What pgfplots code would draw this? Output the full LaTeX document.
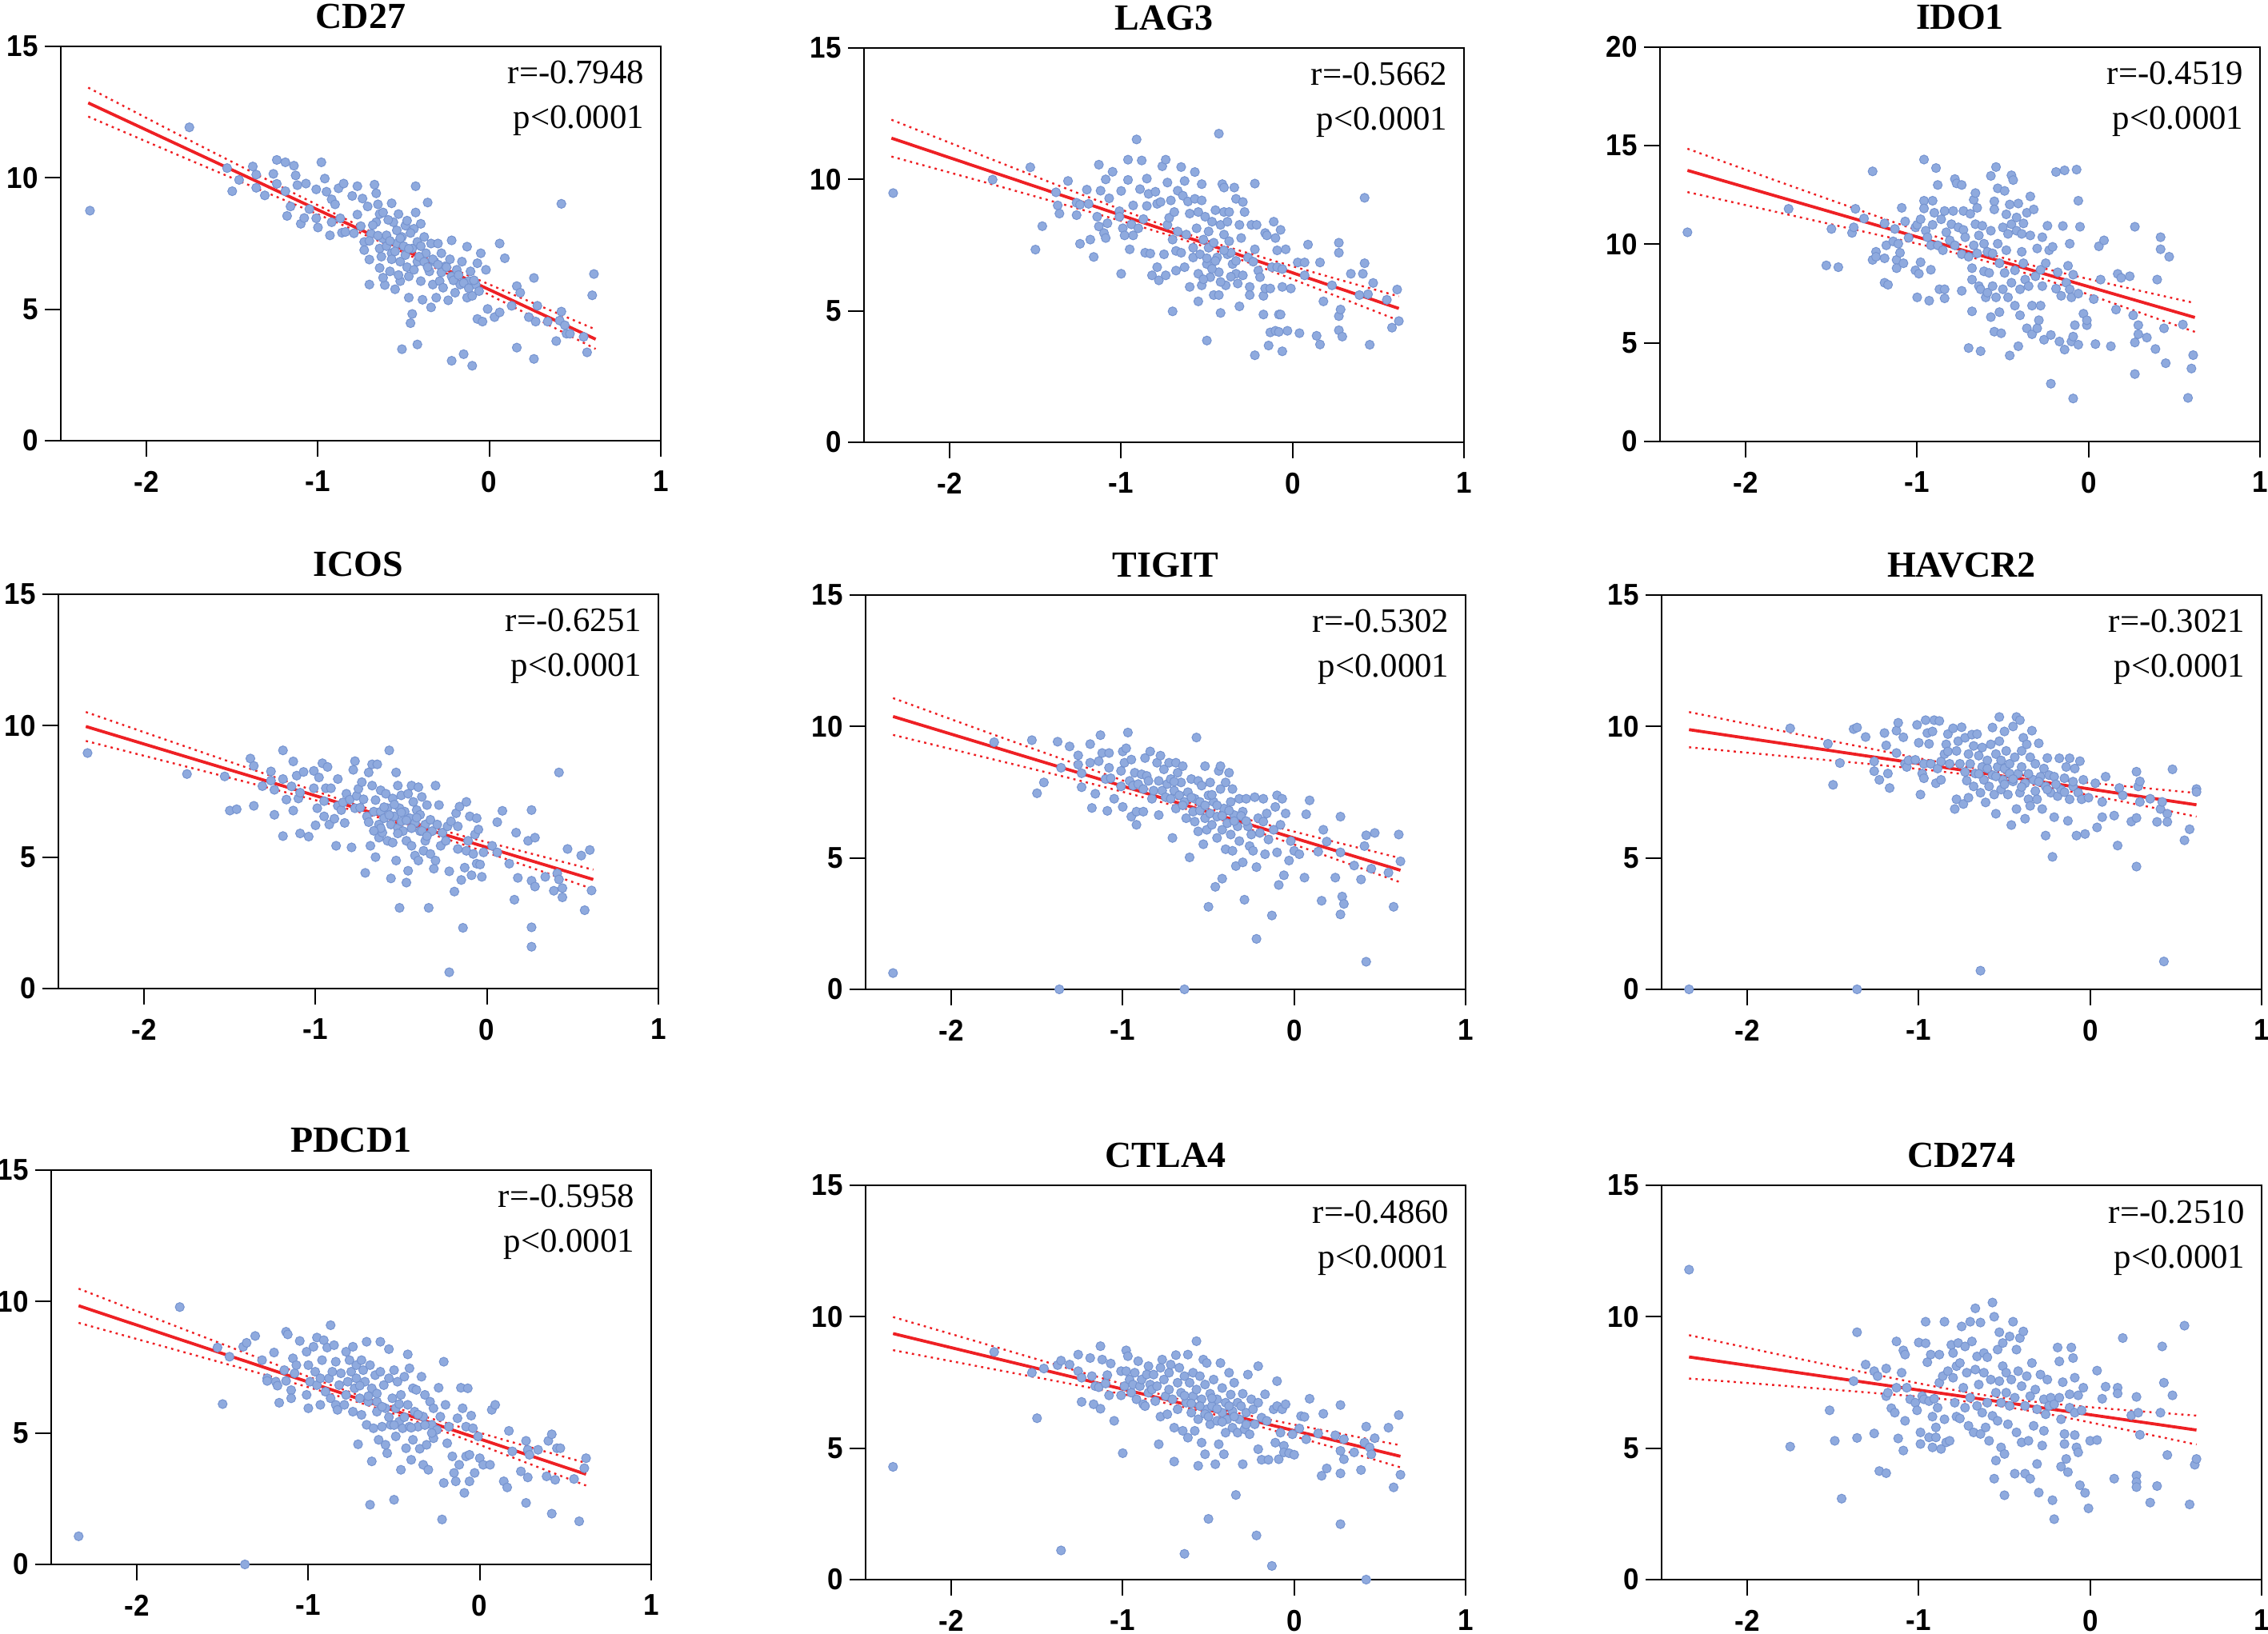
\documentclass[border=0pt]{standalone}
\usepackage{fontspec}
\setmainfont{Liberation Serif}
\newfontfamily\tickfont[FakeStretch=0.93]{Liberation Sans}
\usepackage{pgfplots}
\pgfplotsset{compat=1.18}
\definecolor{ptfill}{RGB}{143,170,222}
\definecolor{ptdraw}{RGB}{118,148,208}
\definecolor{ptred}{RGB}{238,32,36}
\pgfplotsset{
 panel/.style={width=187.5pt,height=123.25pt,scale only axis,
  xmin=-2.5,xmax=1,ymin=0,ymax=15,
  xtick={-2,-1,0,1},xticklabels={-2,-1,0,1},
  ytick={0,5,10,15},yticklabels={0,5,10,15},
  tick pos=left,tick align=outside,major tick length=5pt,
  tick style={black,line width=0.5pt},
  axis line style={line width=0.35pt},
  tick label style={font=\tickfont\bfseries\fontsize{9.4}{9.4}\selectfont},
  xticklabel style={yshift=-1pt},
  yticklabel style={xshift=1.4pt},
  title style={font=\bfseries\fontsize{11.5}{12}\selectfont,at={(0.5,1)},anchor=base,yshift=-0.5pt},
  clip=false,anchor=south west},
 pts/.style={only marks,mark=*,mark size=1.4pt,mark options={fill=ptfill,draw=ptdraw,line width=0.25pt}},
 fit/.style={ptred,line width=0.95pt,no marks},
 ci/.style={ptred,line width=0.6pt,no marks,smooth,dash pattern=on 0.7pt off 1.3pt},
}
\newcommand{\stats}[1]{%
 \node[anchor=base east,font=\fontsize{10.7}{12}\selectfont,inner sep=0pt,xshift=-5pt,yshift=-11.75pt] at (rel axis cs:1,1) {r=#1};
 \node[anchor=base east,font=\fontsize{10.7}{12}\selectfont,inner sep=0pt,xshift=-5pt,yshift=-25.75pt] at (rel axis cs:1,1) {p<0.0001};
 \draw[line width=0.55pt] (rel axis cs:0,1) -- (rel axis cs:0,0) -- (rel axis cs:1,0);}
\begin{document}
\begin{tikzpicture}
\useasboundingbox (0,0) rectangle (708.75pt,510.75pt);
% ---------- CD27
\begin{axis}[panel,at={(19pt,373pt)},title={CD27}]
\addplot[pts] coordinates {(-2.33,8.75)(-1.75,11.92)(-1.53,10.37)(-1.50,9.49)(-1.46,9.92)(-1.38,10.43)(-1.36,10.12)(-1.36,9.62)(-1.31,9.33)(-1.26,10.15)(-1.24,10.68)(-1.24,9.77)(-1.19,10.59)(-1.19,9.49)(-1.14,10.46)(-1.13,10.09)(-1.18,8.55)(-1.16,8.91)(-1.12,9.72)(-1.07,9.78)(-1.10,8.25)(-1.08,8.47)(-1.05,8.81)(-1.01,9.56)(-1.00,8.11)(-1.01,8.46)(-0.98,10.59)(-0.96,9.97)(-0.95,9.47)(-0.93,7.81)(-0.92,8.31)(-0.92,9.18)(-0.90,8.99)(-0.88,9.60)(-0.85,9.78)(-0.86,7.91)(-0.84,7.94)(-0.87,8.46)(-0.80,9.31)(-0.79,7.89)(-0.77,9.68)(-0.77,8.60)(-0.75,8.16)(-0.74,9.21)(-0.73,7.56)(-0.73,7.25)(-0.71,8.91)(-0.70,5.94)(-0.70,6.89)(-0.69,7.87)(-0.67,9.74)(-0.66,9.41)(-0.65,8.99)(-0.66,8.31)(-0.64,8.62)(-0.64,7.31)(-0.63,7.00)(-0.64,6.57)(-0.62,8.68)(-0.62,7.69)(-0.61,5.92)(-0.60,7.81)(-0.58,6.44)(-0.57,9.03)(-0.57,7.13)(-0.56,8.31)(-0.55,5.76)(-0.54,7.50)(-0.54,8.00)(-0.53,8.62)(-0.52,6.81)(-0.52,6.07)(-0.51,3.48)(-0.51,7.75)(-0.49,8.18)(-0.49,7.06)(-0.48,8.37)(-0.47,5.44)(-0.47,6.25)(-0.46,4.47)(-0.45,7.31)(-0.45,4.82)(-0.44,8.06)(-0.43,8.68)(-0.43,9.68)(-0.42,7.56)(-0.42,6.81)(-0.42,3.66)(-0.40,8.25)(-0.40,6.07)(-0.39,5.36)(-0.38,7.75)(-0.37,7.13)(-0.36,9.06)(-0.35,6.44)(-0.34,7.50)(-0.34,5.07)(-0.33,5.94)(-0.32,6.81)(-0.31,5.44)(-0.30,7.50)(-0.29,6.07)(-0.28,7.13)(-0.27,5.82)(-0.26,6.63)(-0.24,5.34)(-0.22,7.62)(-0.22,3.04)(-0.22,6.25)(-0.20,5.63)(-0.19,6.50)(-0.17,5.94)(-0.16,6.81)(-0.15,3.29)(-0.13,5.44)(-0.13,7.38)(-0.12,6.07)(-0.11,6.44)(-0.10,2.85)(-0.10,5.51)(-0.08,5.94)(-0.07,6.75)(-0.07,4.63)(-0.06,5.69)(-0.05,7.13)(-0.04,4.53)(-0.02,6.50)(-0.01,5.01)(0.03,4.70)(0.06,4.88)(0.06,7.50)(0.09,6.94)(0.13,5.13)(0.16,5.88)(0.16,3.54)(0.18,5.63)(0.23,4.70)(0.26,6.19)(0.26,3.11)(0.28,5.13)(0.27,4.53)(0.34,4.53)(0.39,3.79)(0.41,4.57)(0.42,9.01)(0.42,4.91)(0.44,4.39)(0.45,4.07)(0.47,4.07)(0.55,3.95)(0.57,3.36)(0.60,5.53)(0.61,6.34)(-0.60,7.4)(-0.58,7.6)(-0.55,7.2)(-0.50,7.4)(-0.48,6.6)(-0.46,7.9)(-0.44,6.5)(-0.41,7.0)(-0.38,6.8)(-0.36,6.6)(-0.33,6.9)(-0.30,6.7)(-0.28,6.4)(-0.25,6.6)(-0.23,6.9)(-0.21,6.1)(-0.18,6.3)(-0.15,6.0)(-0.12,5.8)(-0.09,6.1)(-0.70,7.6)(-0.68,8.2)(-0.65,7.8)(-0.59,8.4)(-0.52,7.7)(-0.47,7.3)(-0.57,6.9)(-0.62,6.2)(-0.53,6.3)(-0.40,7.4)};
\addplot[ci] coordinates {(-2.34,13.43)(-1.8,11.60)(-1.3,9.94)(-0.9,8.63)(-0.55,7.51)(-0.2,6.50)(0.2,5.39)(0.62,4.23)};
\addplot[ci] coordinates {(-2.34,12.33)(-1.8,10.82)(-1.3,9.44)(-0.9,8.33)(-0.55,7.31)(-0.2,6.20)(0.2,4.89)(0.62,3.49)};
\addplot[fit] coordinates {(-2.34,12.85)(0.62,3.86)};
\stats{-0.7948}
\end{axis}
% ---------- LAG3
\begin{axis}[panel,at={(270pt,372.5pt)},title={LAG3}]
\addplot[pts] coordinates {(-2.33,9.48)(-1.75,9.99)(-1.53,10.46)(-1.50,7.33)(-1.46,8.22)(-1.38,9.51)(-1.37,9.01)(-1.36,8.70)(-1.31,9.94)(-1.26,9.11)(-1.26,8.64)(-1.24,9.04)(-1.24,7.55)(-1.20,9.61)(-1.19,9.07)(-1.18,7.71)(-1.16,7.05)(-1.13,10.56)(-1.14,8.58)(-1.12,9.57)(-1.13,8.21)(-1.10,7.96)(-1.09,7.77)(-1.09,10.00)(-1.08,8.33)(-1.07,9.28)(-1.05,10.29)(-1.01,8.79)(-1.01,8.58)(-1.00,9.56)(-1.00,6.41)(-0.99,8.14)(-0.98,7.87)(-0.96,9.98)(-0.96,10.75)(-0.95,7.34)(-0.94,8.29)(-0.93,9.01)(-0.93,7.87)(-0.91,11.52)(-0.90,8.14)(-0.89,9.63)(-0.88,10.72)(-0.87,8.49)(-0.86,7.21)(-0.85,8.99)(-0.85,10.03)(-0.84,9.45)(-0.83,7.18)(-0.82,6.35)(-0.80,9.53)(-0.79,6.66)(-0.79,9.07)(-0.78,6.16)(-0.77,9.14)(-0.76,10.50)(-0.75,7.15)(-0.74,6.35)(-0.74,10.75)(-0.73,9.88)(-0.73,8.27)(-0.72,8.54)(-0.71,9.20)(-0.70,4.98)(-0.70,7.71)(-0.69,8.76)(-0.68,6.53)(-0.68,7.28)(-0.67,9.57)(-0.67,8.02)(-0.65,10.47)(-0.65,7.21)(-0.64,9.38)(-0.63,6.66)(-0.63,9.94)(-0.62,7.90)(-0.61,9.16)(-0.60,5.91)(-0.60,8.70)(-0.58,7.03)(-0.58,7.40)(-0.57,9.26)(-0.57,10.28)(-0.56,8.14)(-0.55,6.41)(-0.55,5.36)(-0.55,8.76)(-0.54,7.15)(-0.53,5.97)(-0.53,9.20)(-0.53,9.82)(-0.52,7.71)(-0.51,8.58)(-0.50,3.87)(-0.50,6.78)(-0.49,8.02)(-0.49,7.40)(-0.48,6.28)(-0.47,8.39)(-0.46,5.60)(-0.46,7.59)(-0.45,8.83)(-0.44,7.03)(-0.43,6.47)(-0.43,11.74)(-0.43,5.60)(-0.42,8.27)(-0.42,4.92)(-0.41,9.82)(-0.40,8.76)(-0.40,7.90)(-0.40,9.69)(-0.39,5.97)(-0.38,7.15)(-0.38,8.39)(-0.37,8.76)(-0.37,7.65)(-0.36,7.21)(-0.35,6.78)(-0.34,9.69)(-0.33,6.41)(-0.33,9.26)(-0.32,6.04)(-0.31,5.17)(-0.31,8.27)(-0.30,7.77)(-0.29,9.14)(-0.29,6.35)(-0.28,8.76)(-0.26,7.03)(-0.25,5.91)(-0.25,5.60)(-0.24,8.27)(-0.23,6.87)(-0.22,3.31)(-0.22,9.84)(-0.22,7.34)(-0.21,8.27)(-0.20,6.53)(-0.19,6.28)(-0.17,4.86)(-0.17,5.57)(-0.16,7.96)(-0.16,5.85)(-0.15,7.87)(-0.14,3.68)(-0.13,4.18)(-0.13,5.85)(-0.12,6.66)(-0.11,8.39)(-0.10,4.24)(-0.10,7.77)(-0.09,7.30)(-0.09,6.66)(-0.08,4.86)(-0.08,4.20)(-0.07,4.86)(-0.07,8.08)(-0.06,5.91)(-0.06,3.46)(-0.06,6.59)(-0.04,7.34)(-0.03,4.24)(-0.01,5.85)(0.03,6.84)(0.04,4.15)(0.07,6.35)(0.07,6.84)(0.09,7.52)(0.14,4.05)(0.16,6.84)(0.16,3.72)(0.18,5.36)(0.23,5.97)(0.27,7.59)(0.27,7.21)(0.27,4.80)(0.28,5.05)(0.27,4.26)(0.29,4.02)(0.34,6.41)(0.39,5.60)(0.41,6.41)(0.42,9.30)(0.42,6.81)(0.44,5.63)(0.45,3.71)(0.47,6.06)(0.55,5.42)(0.58,4.36)(0.61,5.81)(0.62,4.61)(-0.50,7.0)(-0.45,6.9)(-0.40,7.3)(-0.36,6.3)(-0.33,6.9)(-0.47,6.6)(-0.52,6.2)(-0.42,6.1)};
\addplot[ci] coordinates {(-2.34,12.27)(-1.8,10.88)(-1.3,9.60)(-0.9,8.61)(-0.55,7.78)(-0.2,7.08)(0.2,6.32)(0.62,5.55)};
\addplot[ci] coordinates {(-2.34,10.87)(-1.8,9.90)(-1.3,8.98)(-0.9,8.23)(-0.55,7.52)(-0.2,6.70)(0.2,5.70)(0.62,4.63)};
\addplot[fit] coordinates {(-2.34,11.57)(0.62,5.09)};
\stats{-0.5662}
\end{axis}
% ---------- IDO1
\begin{axis}[panel,at={(518.75pt,372.75pt)},title={IDO1},ymax=20,ytick={0,5,10,15,20},yticklabels={0,5,10,15,20}]
\addplot[pts] coordinates {(-2.34,10.61)(-1.75,11.80)(-1.53,8.93)(-1.50,10.78)(-1.46,8.84)(-1.38,10.58)(-1.37,10.86)(-1.36,11.80)(-1.31,11.31)(-1.26,13.70)(-1.26,9.21)(-1.24,9.62)(-1.24,9.37)(-1.19,11.06)(-1.19,9.29)(-1.19,8.05)(-1.17,7.95)(-1.18,9.95)(-1.14,10.15)(-1.13,10.78)(-1.12,9.21)(-1.12,8.79)(-1.11,10.03)(-1.10,9.57)(-1.09,11.85)(-1.08,9.04)(-1.07,11.16)(-1.05,10.33)(-1.01,10.86)(-1.01,8.68)(-1.00,7.31)(-1.00,10.99)(-0.99,8.51)(-0.98,11.27)(-0.98,9.09)(-0.96,14.30)(-0.96,12.21)(-0.96,11.82)(-0.95,10.69)(-0.94,10.36)(-0.93,7.14)(-0.92,8.71)(-0.92,9.95)(-0.91,10.99)(-0.91,12.21)(-0.90,11.60)(-0.89,13.87)(-0.88,9.95)(-0.88,13.01)(-0.87,7.72)(-0.86,11.27)(-0.85,9.70)(-0.84,11.69)(-0.84,7.26)(-0.84,7.72)(-0.83,10.61)(-0.81,10.20)(-0.80,11.02)(-0.79,11.69)(-0.78,13.31)(-0.78,9.95)(-0.77,13.09)(-0.76,10.86)(-0.74,13.01)(-0.74,7.64)(-0.74,9.50)(-0.73,11.69)(-0.73,10.73)(-0.72,10.36)(-0.70,4.74)(-0.70,9.37)(-0.69,11.55)(-0.68,8.21)(-0.68,8.79)(-0.68,6.60)(-0.67,9.95)(-0.67,12.26)(-0.66,11.02)(-0.66,12.60)(-0.65,9.54)(-0.65,11.85)(-0.64,7.88)(-0.64,10.45)(-0.63,7.72)(-0.63,4.58)(-0.62,10.94)(-0.61,8.63)(-0.61,10.03)(-0.60,7.31)(-0.59,7.55)(-0.59,9.62)(-0.58,8.55)(-0.57,6.31)(-0.57,13.47)(-0.57,10.69)(-0.56,7.88)(-0.56,9.54)(-0.55,5.57)(-0.55,12.18)(-0.55,11.77)(-0.54,13.92)(-0.54,7.31)(-0.53,12.84)(-0.53,10.03)(-0.52,6.56)(-0.52,9.04)(-0.51,5.49)(-0.50,10.86)(-0.50,7.72)(-0.49,12.71)(-0.49,8.55)(-0.48,11.52)(-0.48,9.70)(-0.47,7.31)(-0.47,10.53)(-0.46,4.36)(-0.46,12.02)(-0.45,8.05)(-0.45,13.50)(-0.45,11.02)(-0.44,13.26)(-0.43,6.89)(-0.43,8.68)(-0.42,11.36)(-0.42,10.69)(-0.41,12.07)(-0.41,4.83)(-0.40,7.72)(-0.40,6.40)(-0.39,9.62)(-0.39,10.53)(-0.38,11.06)(-0.38,9.04)(-0.37,8.21)(-0.36,11.60)(-0.36,5.74)(-0.35,7.88)(-0.34,12.43)(-0.34,10.45)(-0.33,5.44)(-0.33,6.89)(-0.32,11.77)(-0.31,8.38)(-0.30,9.79)(-0.30,5.74)(-0.29,6.15)(-0.28,8.71)(-0.28,6.89)(-0.27,10.36)(-0.27,7.88)(-0.26,5.16)(-0.25,9.04)(-0.24,10.94)(-0.23,9.70)(-0.22,2.93)(-0.22,5.40)(-0.21,9.87)(-0.19,7.75)(-0.19,13.67)(-0.18,8.58)(-0.17,5.07)(-0.16,7.39)(-0.15,10.93)(-0.14,4.66)(-0.14,13.75)(-0.13,8.05)(-0.12,8.91)(-0.11,7.72)(-0.11,10.03)(-0.10,5.07)(-0.10,7.31)(-0.09,8.46)(-0.09,2.18)(-0.09,5.32)(-0.08,5.90)(-0.07,13.79)(-0.06,12.21)(-0.06,4.91)(-0.06,7.50)(-0.05,10.89)(-0.03,6.48)(-0.01,5.90)(-0.01,6.15)(0.03,7.22)(0.04,4.94)(0.06,9.90)(0.07,8.21)(0.09,10.20)(0.13,4.83)(0.16,6.69)(0.17,8.50)(0.19,8.30)(0.24,8.38)(0.26,6.40)(0.27,5.02)(0.27,10.89)(0.27,3.42)(0.29,5.90)(0.29,5.44)(0.34,5.27)(0.39,4.69)(0.40,8.21)(0.42,10.36)(0.42,9.75)(0.44,5.74)(0.45,3.97)(0.47,9.37)(0.55,5.93)(0.58,2.21)(0.60,3.70)(0.61,4.38)};
\addplot[ci] coordinates {(-2.34,14.85)(-1.8,13.16)(-1.3,11.62)(-0.9,10.42)(-0.55,9.44)(-0.2,8.65)(0.2,7.84)(0.62,7.02)};
\addplot[ci] coordinates {(-2.34,12.65)(-1.8,11.60)(-1.3,10.62)(-0.9,9.83)(-0.55,9.02)(-0.2,8.06)(0.2,6.84)(0.62,5.56)};
\addplot[fit] coordinates {(-2.34,13.75)(0.62,6.29)};
\stats{-0.4519}
\end{axis}
% ---------- ICOS
\begin{axis}[panel,at={(18.25pt,201.75pt)},title={ICOS}]
\addplot[pts] coordinates {(-2.33,8.96)(-1.75,8.16)(-1.53,8.07)(-1.50,6.77)(-1.46,6.82)(-1.38,8.75)(-1.36,8.47)(-1.36,6.95)(-1.31,7.70)(-1.26,8.26)(-1.26,7.91)(-1.24,7.56)(-1.24,6.61)(-1.19,9.06)(-1.19,7.97)(-1.19,5.80)(-1.17,7.19)(-1.14,7.69)(-1.13,6.77)(-1.13,8.64)(-1.11,8.10)(-1.10,7.23)(-1.09,5.90)(-1.09,7.45)(-1.07,8.24)(-1.04,5.78)(-1.01,8.28)(-1.01,7.62)(-1.00,6.21)(-0.99,6.86)(-0.98,8.03)(-0.96,8.57)(-0.95,7.13)(-0.95,6.55)(-0.94,7.62)(-0.93,8.43)(-0.92,6.24)(-0.91,7.62)(-0.89,6.46)(-0.88,5.43)(-0.87,6.95)(-0.87,7.97)(-0.85,6.79)(-0.84,7.08)(-0.83,6.30)(-0.82,7.41)(-0.80,7.19)(-0.79,5.37)(-0.78,8.32)(-0.77,6.86)(-0.77,8.65)(-0.76,7.33)(-0.75,7.60)(-0.74,6.88)(-0.73,7.85)(-0.72,7.20)(-0.71,4.40)(-0.70,6.55)(-0.69,8.22)(-0.69,6.33)(-0.68,5.43)(-0.67,8.53)(-0.67,7.72)(-0.66,6.73)(-0.65,7.17)(-0.65,5.00)(-0.64,8.53)(-0.63,6.24)(-0.63,5.74)(-0.62,7.54)(-0.62,6.73)(-0.61,5.93)(-0.60,6.48)(-0.59,7.41)(-0.58,5.62)(-0.58,6.86)(-0.57,9.06)(-0.56,6.24)(-0.56,4.19)(-0.55,7.23)(-0.55,5.55)(-0.54,6.55)(-0.53,8.22)(-0.53,4.87)(-0.52,7.72)(-0.52,6.11)(-0.51,6.86)(-0.51,3.07)(-0.50,7.35)(-0.50,6.36)(-0.49,5.99)(-0.48,6.73)(-0.47,5.62)(-0.47,4.03)(-0.46,4.48)(-0.46,7.41)(-0.45,6.48)(-0.44,7.72)(-0.44,5.43)(-0.43,7.10)(-0.42,5.06)(-0.42,6.30)(-0.41,6.79)(-0.40,7.66)(-0.40,4.87)(-0.39,5.99)(-0.39,6.61)(-0.38,7.29)(-0.37,5.24)(-0.36,6.24)(-0.36,5.62)(-0.35,6.98)(-0.34,3.07)(-0.33,6.42)(-0.33,5.12)(-0.32,5.99)(-0.31,4.56)(-0.30,4.87)(-0.30,7.72)(-0.29,6.24)(-0.28,6.98)(-0.27,5.43)(-0.26,5.93)(-0.24,5.62)(-0.23,6.17)(-0.22,4.46)(-0.22,0.62)(-0.21,6.36)(-0.19,3.69)(-0.18,6.67)(-0.17,5.31)(-0.17,6.17)(-0.16,6.92)(-0.15,4.13)(-0.14,2.31)(-0.13,4.60)(-0.12,7.10)(-0.12,5.24)(-0.11,5.62)(-0.10,6.55)(-0.09,4.31)(-0.08,5.12)(-0.07,5.86)(-0.06,6.48)(-0.06,4.75)(-0.05,6.05)(-0.04,4.72)(-0.03,4.25)(-0.02,5.18)(0.03,5.43)(0.06,5.18)(0.06,6.33)(0.09,6.76)(0.13,4.75)(0.16,3.38)(0.17,5.93)(0.18,4.21)(0.24,5.62)(0.26,4.10)(0.26,6.79)(0.26,2.33)(0.26,1.59)(0.28,3.88)(0.28,5.74)(0.34,4.25)(0.39,3.72)(0.41,4.38)(0.42,8.22)(0.42,4.15)(0.44,3.82)(0.44,3.47)(0.47,5.31)(0.55,5.06)(0.57,2.98)(0.60,5.27)(0.61,3.73)(-0.60,6.9)(-0.57,6.6)(-0.54,7.0)(-0.50,6.7)(-0.47,6.4)(-0.44,6.1)(-0.41,6.5)(-0.38,6.0)(-0.35,5.8)(-0.62,6.1)(-0.66,6.0)(-0.52,5.9)};
\addplot[ci] coordinates {(-2.34,10.52)(-1.8,9.30)(-1.3,8.18)(-0.9,7.29)(-0.55,6.55)(-0.2,5.91)(0.2,5.23)(0.62,4.52)};
\addplot[ci] coordinates {(-2.34,9.42)(-1.8,8.52)(-1.3,7.68)(-0.9,6.99)(-0.55,6.35)(-0.2,5.61)(0.2,4.73)(0.62,3.78)};
\addplot[fit] coordinates {(-2.34,9.97)(0.62,4.15)};
\stats{-0.6251}
\end{axis}
% ---------- TIGIT
\begin{axis}[panel,at={(270.5pt,201.5pt)},title={TIGIT}]
\addplot[pts] coordinates {(-2.34,0.62)(-1.37,0)(-0.64,0)(-1.75,9.40)(-1.53,9.48)(-1.50,7.46)(-1.46,7.87)(-1.38,9.42)(-1.36,8.43)(-1.31,9.24)(-1.26,8.90)(-1.26,8.55)(-1.24,8.22)(-1.24,7.69)(-1.19,9.33)(-1.19,8.62)(-1.18,6.90)(-1.16,7.44)(-1.14,8.68)(-1.13,9.67)(-1.12,8.99)(-1.10,8.00)(-1.09,6.79)(-1.08,8.99)(-1.08,8.43)(-1.07,8.03)(-1.05,7.25)(-1.01,7.72)(-1.01,8.31)(-1.00,9.05)(-1.00,6.94)(-0.99,8.62)(-0.98,9.17)(-0.97,9.77)(-0.96,7.93)(-0.95,6.57)(-0.95,8.74)(-0.94,7.75)(-0.93,8.24)(-0.92,6.26)(-0.92,6.76)(-0.91,7.81)(-0.89,8.18)(-0.88,6.76)(-0.88,7.62)(-0.87,8.80)(-0.86,8.12)(-0.85,7.93)(-0.84,9.05)(-0.83,7.25)(-0.82,7.56)(-0.80,8.62)(-0.79,6.63)(-0.79,7.93)(-0.78,8.89)(-0.77,7.56)(-0.76,8.37)(-0.75,7.31)(-0.74,7.81)(-0.73,8.62)(-0.72,7.25)(-0.72,8.00)(-0.71,5.76)(-0.70,7.56)(-0.69,8.62)(-0.69,6.88)(-0.68,8.24)(-0.67,7.38)(-0.66,7.87)(-0.65,8.49)(-0.64,7.13)(-0.63,6.51)(-0.62,7.50)(-0.61,5.02)(-0.60,8.00)(-0.59,6.76)(-0.58,7.25)(-0.58,6.38)(-0.57,9.58)(-0.56,7.93)(-0.56,6.01)(-0.55,7.13)(-0.54,7.75)(-0.53,5.52)(-0.52,6.51)(-0.52,8.49)(-0.51,6.07)(-0.50,3.14)(-0.50,7.38)(-0.49,6.69)(-0.49,7.87)(-0.48,6.26)(-0.47,7.13)(-0.46,3.90)(-0.45,5.76)(-0.45,6.57)(-0.44,8.31)(-0.43,7.62)(-0.43,8.49)(-0.42,6.07)(-0.42,4.21)(-0.41,6.88)(-0.40,7.87)(-0.40,5.33)(-0.39,6.32)(-0.38,8.24)(-0.37,7.13)(-0.37,5.89)(-0.36,5.27)(-0.36,7.62)(-0.35,6.63)(-0.34,4.69)(-0.33,6.20)(-0.32,7.25)(-0.32,5.64)(-0.30,4.83)(-0.30,6.76)(-0.29,3.41)(-0.28,7.25)(-0.27,6.20)(-0.26,5.45)(-0.25,5.89)(-0.24,5.27)(-0.23,7.31)(-0.22,4.65)(-0.22,1.92)(-0.21,6.51)(-0.20,5.95)(-0.18,7.25)(-0.18,6.38)(-0.17,5.14)(-0.16,6.69)(-0.15,5.70)(-0.13,2.81)(-0.12,6.07)(-0.11,6.94)(-0.10,7.38)(-0.10,5.21)(-0.09,3.97)(-0.08,6.26)(-0.07,7.25)(-0.06,4.34)(-0.05,6.69)(-0.03,4.90)(-0.02,5.64)(0.00,5.27)(0.03,5.14)(0.06,4.25)(0.07,6.66)(0.09,7.19)(0.14,5.24)(0.16,3.37)(0.17,6.07)(0.19,5.62)(0.24,4.25)(0.27,6.57)(0.27,5.21)(0.28,3.53)(0.27,2.85)(0.29,3.25)(0.35,4.71)(0.39,4.18)(0.41,5.45)(0.42,1.05)(0.42,5.86)(0.45,4.59)(0.47,5.95)(0.55,4.44)(0.58,3.14)(0.61,5.89)(0.62,4.87)(-0.55,6.8)(-0.52,7.0)(-0.48,7.4)(-0.45,7.0)(-0.42,6.6)(-0.38,6.8)(-0.35,6.4)(-0.31,6.6)(-0.28,6.4)(-0.60,7.3)(-0.65,7.0)(-0.70,7.9)};
\addplot[ci] coordinates {(-2.34,11.08)(-1.8,9.80)(-1.3,8.64)(-0.9,7.72)(-0.55,6.97)(-0.2,6.34)(0.2,5.67)(0.62,4.99)};
\addplot[ci] coordinates {(-2.34,9.68)(-1.8,8.82)(-1.3,8.02)(-0.9,7.34)(-0.55,6.71)(-0.2,5.96)(0.2,5.05)(0.62,4.07)};
\addplot[fit] coordinates {(-2.34,10.38)(0.62,4.53)};
\stats{-0.5302}
\end{axis}
% ---------- HAVCR2
\begin{axis}[panel,at={(519.25pt,201.5pt)},title={HAVCR2}]
\addplot[pts] coordinates {(-2.34,0)(-1.36,0)(-0.64,0.71)(0.43,1.06)(-1.75,9.93)(-1.53,9.34)(-1.50,7.78)(-1.46,8.61)(-1.38,9.90)(-1.36,9.96)(-1.31,9.60)(-1.26,8.67)(-1.26,8.30)(-1.23,7.97)(-1.20,9.75)(-1.19,9.28)(-1.18,8.21)(-1.17,7.66)(-1.13,8.99)(-1.13,9.84)(-1.12,10.14)(-1.09,9.59)(-1.08,8.58)(-1.07,8.46)(-1.06,8.71)(-1.02,8.73)(-1.01,10.06)(-1.00,9.38)(-0.99,7.41)(-0.98,8.21)(-0.97,8.58)(-0.97,8.03)(-0.96,10.24)(-0.95,9.75)(-0.94,9.34)(-0.93,8.58)(-0.92,9.81)(-0.91,10.24)(-0.90,7.84)(-0.89,8.40)(-0.88,10.21)(-0.87,7.97)(-0.87,8.67)(-0.85,8.95)(-0.84,9.32)(-0.83,9.71)(-0.83,9.05)(-0.82,8.58)(-0.80,9.93)(-0.79,6.86)(-0.78,9.07)(-0.78,7.23)(-0.77,9.44)(-0.76,8.58)(-0.75,9.97)(-0.74,7.05)(-0.73,8.27)(-0.73,9.57)(-0.72,7.94)(-0.71,8.95)(-0.71,7.29)(-0.70,8.58)(-0.69,9.69)(-0.68,7.72)(-0.68,9.26)(-0.67,8.21)(-0.66,9.71)(-0.65,8.89)(-0.64,7.48)(-0.63,8.46)(-0.63,9.20)(-0.62,7.97)(-0.61,7.11)(-0.60,8.71)(-0.59,7.72)(-0.58,9.32)(-0.57,8.15)(-0.57,9.96)(-0.56,7.41)(-0.55,8.95)(-0.55,6.68)(-0.54,8.46)(-0.53,9.44)(-0.53,10.36)(-0.52,7.60)(-0.52,8.71)(-0.51,7.97)(-0.50,9.81)(-0.50,8.40)(-0.49,9.07)(-0.48,7.41)(-0.47,8.21)(-0.47,8.58)(-0.46,6.25)(-0.45,10.00)(-0.45,7.91)(-0.44,8.83)(-0.43,6.86)(-0.43,10.36)(-0.42,8.21)(-0.41,7.48)(-0.41,10.24)(-0.40,9.07)(-0.40,8.46)(-0.39,9.57)(-0.38,6.49)(-0.38,7.84)(-0.37,9.32)(-0.36,7.23)(-0.35,8.83)(-0.35,6.98)(-0.34,9.84)(-0.33,7.97)(-0.32,8.58)(-0.32,7.54)(-0.31,7.23)(-0.30,9.36)(-0.29,8.09)(-0.28,6.86)(-0.27,8.40)(-0.26,7.72)(-0.26,5.85)(-0.25,8.80)(-0.24,8.15)(-0.23,7.48)(-0.22,5.04)(-0.21,6.55)(-0.21,8.09)(-0.19,7.35)(-0.18,8.79)(-0.17,7.60)(-0.15,8.03)(-0.14,8.46)(-0.13,6.41)(-0.12,7.23)(-0.12,8.79)(-0.10,7.72)(-0.09,8.40)(-0.08,5.85)(-0.07,7.48)(-0.06,8.68)(-0.05,7.23)(-0.04,7.97)(-0.03,5.91)(-0.01,7.29)(0.03,7.84)(0.04,6.16)(0.07,6.55)(0.07,7.13)(0.09,8.09)(0.14,6.61)(0.16,5.47)(0.17,7.66)(0.19,7.38)(0.24,6.38)(0.27,6.52)(0.27,8.28)(0.27,4.67)(0.28,7.72)(0.29,7.13)(0.29,7.91)(0.35,7.25)(0.39,6.37)(0.41,6.86)(0.42,7.13)(0.45,6.68)(0.45,6.37)(0.48,8.37)(0.55,5.67)(0.58,6.09)(0.62,7.62)(0.62,7.51)(-0.55,8.1)(-0.50,7.8)(-0.45,8.0)(-0.40,7.7)(-0.36,8.2)(-0.30,7.9)(-0.25,7.6)(-0.20,7.8)(-0.15,7.5)(-0.10,7.9)(-0.60,8.4)(-0.65,8.2)};
\addplot[ci] coordinates {(-2.34,10.55)(-1.8,9.83)(-1.3,9.18)(-0.9,8.67)(-0.55,8.28)(-0.2,7.99)(0.2,7.73)(0.62,7.47)};
\addplot[ci] coordinates {(-2.34,9.21)(-1.8,8.88)(-1.3,8.58)(-0.9,8.31)(-0.55,8.02)(-0.2,7.63)(0.2,7.13)(0.62,6.57)};
\addplot[fit] coordinates {(-2.34,9.88)(0.62,7.02)};
\stats{-0.3021}
\end{axis}
% ---------- PDCD1
\begin{axis}[panel,at={(16pt,21.75pt)},title={PDCD1}]
\addplot[pts] coordinates {(-2.34,1.07)(-1.37,0)(-1.75,9.79)(-1.53,8.25)(-1.50,6.10)(-1.46,7.90)(-1.38,8.28)(-1.36,8.43)(-1.31,8.69)(-1.27,7.77)(-1.24,7.08)(-1.24,6.98)(-1.20,8.06)(-1.19,6.95)(-1.18,6.80)(-1.17,6.15)(-1.14,7.39)(-1.13,6.98)(-1.13,8.85)(-1.12,8.75)(-1.10,6.63)(-1.10,6.32)(-1.09,7.84)(-1.08,7.27)(-1.07,7.58)(-1.05,8.50)(-1.01,8.09)(-1.01,6.45)(-1.00,5.94)(-1.00,7.58)(-0.99,6.95)(-0.97,8.28)(-0.96,7.33)(-0.95,8.63)(-0.95,6.82)(-0.93,7.08)(-0.93,6.07)(-0.92,7.77)(-0.91,8.53)(-0.90,6.57)(-0.89,8.25)(-0.88,7.08)(-0.87,9.10)(-0.87,6.32)(-0.86,7.33)(-0.85,8.34)(-0.84,6.07)(-0.84,7.71)(-0.83,5.88)(-0.82,6.82)(-0.81,7.27)(-0.79,6.07)(-0.78,8.09)(-0.78,6.45)(-0.77,6.95)(-0.76,7.77)(-0.75,7.33)(-0.74,5.81)(-0.74,8.28)(-0.73,6.70)(-0.72,7.08)(-0.72,7.58)(-0.71,4.57)(-0.70,6.32)(-0.69,7.77)(-0.69,5.69)(-0.68,7.39)(-0.67,6.95)(-0.66,8.47)(-0.66,5.31)(-0.65,6.19)(-0.64,2.27)(-0.64,7.58)(-0.63,3.92)(-0.63,6.70)(-0.62,5.18)(-0.61,7.20)(-0.60,5.81)(-0.60,6.19)(-0.59,4.74)(-0.58,7.33)(-0.58,8.47)(-0.57,5.24)(-0.56,6.82)(-0.55,4.55)(-0.55,5.94)(-0.54,4.23)(-0.53,7.08)(-0.53,8.19)(-0.52,5.31)(-0.51,6.32)(-0.50,7.39)(-0.50,2.46)(-0.49,4.87)(-0.49,5.94)(-0.48,6.95)(-0.47,5.43)(-0.46,3.60)(-0.46,6.45)(-0.45,5.18)(-0.44,7.14)(-0.43,4.42)(-0.42,7.99)(-0.42,6.07)(-0.41,5.24)(-0.41,7.46)(-0.40,3.98)(-0.39,6.70)(-0.39,4.74)(-0.38,5.81)(-0.37,6.64)(-0.36,5.24)(-0.35,4.40)(-0.34,7.14)(-0.33,3.79)(-0.33,5.62)(-0.32,6.45)(-0.31,4.55)(-0.30,3.60)(-0.29,6.19)(-0.28,5.31)(-0.27,4.80)(-0.27,5.94)(-0.25,5.12)(-0.24,6.72)(-0.23,5.62)(-0.22,1.71)(-0.21,7.71)(-0.21,3.10)(-0.20,6.07)(-0.19,4.61)(-0.18,5.24)(-0.16,4.11)(-0.15,3.48)(-0.14,3.16)(-0.13,5.56)(-0.12,3.79)(-0.11,6.72)(-0.10,5.94)(-0.09,2.72)(-0.08,4.11)(-0.08,5.24)(-0.07,6.70)(-0.06,4.17)(-0.06,3.16)(-0.05,5.66)(-0.04,5.18)(-0.03,3.48)(-0.01,4.87)(0.00,4.04)(0.02,3.79)(0.06,3.79)(0.07,5.88)(0.09,6.07)(0.14,3.16)(0.16,2.93)(0.17,5.08)(0.19,4.30)(0.24,3.54)(0.27,2.34)(0.27,4.70)(0.28,4.36)(0.28,3.31)(0.29,4.17)(0.34,4.36)(0.39,3.35)(0.40,4.70)(0.42,4.95)(0.42,1.93)(0.44,3.22)(0.45,4.42)(0.47,4.42)(0.55,3.25)(0.58,1.64)(0.61,3.66)(0.62,4.04)(-0.60,6.5)(-0.57,6.0)(-0.53,5.6)(-0.50,5.3)(-0.47,6.1)(-0.44,5.6)(-0.40,5.2)(-0.36,5.7)(-0.32,5.3)(-0.28,5.0)(-0.70,6.8)(-0.65,6.4)};
\addplot[ci] coordinates {(-2.34,10.49)(-1.8,9.13)(-1.3,7.88)(-0.9,6.90)(-0.55,6.08)(-0.2,5.39)(0.2,4.63)(0.62,3.86)};
\addplot[ci] coordinates {(-2.34,9.19)(-1.8,8.21)(-1.3,7.30)(-0.9,6.55)(-0.55,5.84)(-0.2,5.04)(0.2,4.05)(0.62,3.00)};
\addplot[fit] coordinates {(-2.34,9.84)(0.62,3.43)};
\stats{-0.5958}
\end{axis}
% ---------- CTLA4
\begin{axis}[panel,at={(270.5pt,17pt)},title={CTLA4}]
\addplot[pts] coordinates {(-2.34,4.29)(-1.36,1.11)(-0.64,0.98)(-0.50,2.31)(-0.22,1.68)(-0.13,0.52)(0.27,2.11)(0.42,0)(-1.75,8.66)(-1.53,7.87)(-1.50,6.14)(-1.46,8.03)(-1.38,8.16)(-1.36,8.33)(-1.31,8.18)(-1.26,8.56)(-1.26,7.93)(-1.24,7.68)(-1.24,6.76)(-1.19,8.43)(-1.18,7.74)(-1.17,6.67)(-1.16,7.36)(-1.14,7.32)(-1.13,8.88)(-1.12,8.37)(-1.13,6.50)(-1.10,7.46)(-1.09,7.78)(-1.08,7.01)(-1.07,8.22)(-1.05,6.04)(-1.01,7.93)(-1.01,7.01)(-1.00,4.81)(-0.99,7.36)(-0.98,8.72)(-0.98,7.93)(-0.97,8.50)(-0.96,7.61)(-0.95,7.11)(-0.94,7.42)(-0.93,7.87)(-0.92,6.86)(-0.91,8.31)(-0.90,7.36)(-0.89,7.61)(-0.88,6.67)(-0.87,6.60)(-0.86,7.80)(-0.85,8.12)(-0.85,7.11)(-0.84,7.42)(-0.83,7.23)(-0.82,7.80)(-0.81,6.79)(-0.80,7.36)(-0.79,5.15)(-0.78,8.06)(-0.78,6.20)(-0.77,8.37)(-0.76,7.61)(-0.75,6.98)(-0.74,6.29)(-0.73,7.87)(-0.73,7.23)(-0.72,8.18)(-0.71,6.86)(-0.70,4.49)(-0.70,5.78)(-0.69,8.54)(-0.68,7.49)(-0.68,6.48)(-0.67,8.06)(-0.66,7.11)(-0.65,5.66)(-0.64,7.74)(-0.63,6.73)(-0.62,5.40)(-0.62,8.56)(-0.61,7.49)(-0.60,6.35)(-0.59,6.98)(-0.59,7.87)(-0.58,5.66)(-0.57,9.07)(-0.57,7.23)(-0.56,4.33)(-0.56,6.10)(-0.55,7.74)(-0.54,5.21)(-0.54,6.86)(-0.53,8.37)(-0.52,4.77)(-0.52,7.42)(-0.51,6.48)(-0.51,8.24)(-0.49,5.91)(-0.49,7.07)(-0.48,6.60)(-0.47,7.61)(-0.46,4.39)(-0.45,6.04)(-0.45,6.86)(-0.44,5.15)(-0.43,8.24)(-0.42,6.35)(-0.42,7.29)(-0.41,4.77)(-0.40,5.59)(-0.40,6.73)(-0.39,6.10)(-0.38,7.87)(-0.37,7.04)(-0.36,5.78)(-0.36,6.41)(-0.35,7.49)(-0.34,3.22)(-0.33,5.59)(-0.33,6.73)(-0.32,6.10)(-0.30,4.39)(-0.30,7.07)(-0.29,5.72)(-0.28,6.35)(-0.27,7.80)(-0.26,5.53)(-0.25,6.86)(-0.24,6.48)(-0.23,5.91)(-0.21,4.96)(-0.21,8.12)(-0.21,6.73)(-0.19,4.56)(-0.19,6.16)(-0.17,7.05)(-0.16,6.04)(-0.15,4.56)(-0.12,6.48)(-0.11,5.21)(-0.10,7.55)(-0.10,6.60)(-0.09,4.58)(-0.08,5.59)(-0.07,6.48)(-0.06,5.09)(-0.06,4.84)(-0.05,6.67)(-0.03,4.81)(-0.01,5.53)(0.00,4.75)(0.03,5.75)(0.04,6.22)(0.06,6.19)(0.07,5.34)(0.09,6.88)(0.14,5.56)(0.16,3.95)(0.17,6.31)(0.19,4.23)(0.24,5.49)(0.27,6.64)(0.27,4.90)(0.27,4.04)(0.29,4.58)(0.29,5.34)(0.35,4.84)(0.39,4.17)(0.41,5.21)(0.42,5.82)(0.44,5.03)(0.45,4.77)(0.47,5.38)(0.55,5.78)(0.58,3.51)(0.61,6.26)(0.62,3.99)(-0.55,6.6)(-0.52,6.3)(-0.48,6.9)(-0.45,6.5)(-0.42,6.0)(-0.38,6.6)(-0.35,6.2)(-0.31,6.6)(-0.28,5.9)(-0.60,6.7)(-0.64,7.0)(-0.50,6.2)};
\addplot[ci] coordinates {(-2.34,9.99)(-1.8,8.96)(-1.3,8.00)(-0.9,7.26)(-0.55,6.66)(-0.2,6.16)(0.2,5.64)(0.62,5.11)};
\addplot[ci] coordinates {(-2.34,8.73)(-1.8,8.06)(-1.3,7.44)(-0.9,6.92)(-0.55,6.42)(-0.2,5.82)(0.2,5.08)(0.62,4.27)};
\addplot[fit] coordinates {(-2.34,9.36)(0.62,4.69)};
\stats{-0.4860}
\end{axis}
% ---------- CD274
\begin{axis}[panel,at={(519.25pt,17pt)},title={CD274}]
\addplot[pts] coordinates {(-2.34,11.79)(-1.75,5.06)(-1.52,6.44)(-1.49,5.28)(-1.45,3.08)(-1.38,7.55)(-1.36,9.41)(-1.36,5.39)(-1.31,8.18)(-1.26,5.56)(-1.26,7.93)(-1.24,7.74)(-1.23,4.13)(-1.19,8.03)(-1.19,4.05)(-1.19,6.98)(-1.18,7.11)(-1.16,6.52)(-1.14,6.35)(-1.13,9.06)(-1.13,7.30)(-1.12,5.37)(-1.10,7.87)(-1.09,8.72)(-1.08,8.56)(-1.08,6.04)(-1.07,7.30)(-1.09,4.91)(-1.05,6.86)(-1.02,6.73)(-1.01,6.44)(-1.00,9.02)(-0.99,5.60)(-0.99,5.16)(-0.98,6.98)(-0.97,6.86)(-0.96,9.81)(-0.96,8.99)(-0.95,8.27)(-0.94,5.41)(-0.94,6.79)(-0.93,8.56)(-0.92,6.20)(-0.92,5.03)(-0.91,6.88)(-0.90,5.79)(-0.90,5.41)(-0.89,6.54)(-0.88,7.49)(-0.88,8.56)(-0.87,4.97)(-0.86,7.74)(-0.85,9.81)(-0.85,6.10)(-0.84,5.22)(-0.83,7.93)(-0.82,5.28)(-0.81,8.93)(-0.80,8.62)(-0.80,7.68)(-0.79,6.73)(-0.78,6.20)(-0.78,8.12)(-0.77,9.00)(-0.76,6.13)(-0.76,8.24)(-0.75,9.63)(-0.74,7.30)(-0.73,8.87)(-0.73,6.54)(-0.72,7.87)(-0.71,5.85)(-0.70,9.81)(-0.70,6.92)(-0.69,9.06)(-0.68,5.60)(-0.67,10.32)(-0.67,7.99)(-0.66,6.61)(-0.66,8.49)(-0.65,7.42)(-0.64,5.54)(-0.64,9.78)(-0.63,6.35)(-0.62,8.62)(-0.62,7.87)(-0.61,5.79)(-0.60,6.73)(-0.60,8.46)(-0.59,5.28)(-0.58,7.61)(-0.57,6.23)(-0.57,10.54)(-0.56,10.00)(-0.56,3.84)(-0.55,7.11)(-0.55,4.53)(-0.54,6.04)(-0.54,8.75)(-0.53,7.55)(-0.53,9.41)(-0.52,5.03)(-0.52,6.73)(-0.51,8.12)(-0.51,9.00)(-0.50,3.21)(-0.50,4.78)(-0.49,7.11)(-0.49,7.87)(-0.48,5.91)(-0.47,6.61)(-0.47,9.25)(-0.46,7.61)(-0.45,9.81)(-0.44,4.03)(-0.44,6.92)(-0.43,8.75)(-0.43,5.60)(-0.42,7.93)(-0.41,9.19)(-0.40,5.22)(-0.40,7.36)(-0.39,9.44)(-0.38,6.61)(-0.38,4.03)(-0.37,7.74)(-0.36,5.28)(-0.35,6.98)(-0.35,3.84)(-0.34,8.24)(-0.33,5.85)(-0.32,7.23)(-0.31,4.40)(-0.31,6.48)(-0.30,3.31)(-0.29,7.80)(-0.28,5.10)(-0.27,6.86)(-0.27,5.66)(-0.26,6.29)(-0.25,7.61)(-0.24,6.61)(-0.23,6.92)(-0.22,3.02)(-0.21,2.30)(-0.21,6.67)(-0.19,8.83)(-0.18,8.30)(-0.18,6.92)(-0.17,4.30)(-0.17,6.10)(-0.16,7.51)(-0.15,5.16)(-0.15,5.54)(-0.14,4.59)(-0.13,4.09)(-0.12,6.54)(-0.12,7.05)(-0.11,8.83)(-0.10,8.43)(-0.09,7.68)(-0.09,5.50)(-0.09,6.35)(-0.08,5.03)(-0.07,4.84)(-0.07,7.01)(-0.06,3.59)(-0.05,6.44)(-0.04,7.30)(-0.03,3.30)(-0.01,2.71)(0.00,5.28)(0.04,5.31)(0.04,7.95)(0.07,6.88)(0.09,7.34)(0.14,3.84)(0.16,7.30)(0.16,7.08)(0.19,9.19)(0.24,6.25)(0.27,6.95)(0.27,3.96)(0.27,3.71)(0.27,3.52)(0.28,6.35)(0.29,5.51)(0.35,2.93)(0.39,3.56)(0.41,6.35)(0.42,8.87)(0.43,7.49)(0.45,4.74)(0.48,7.01)(0.55,9.66)(0.58,2.86)(0.61,4.37)(0.62,4.59)};
\addplot[ci] coordinates {(-2.34,9.30)(-1.8,8.54)(-1.3,7.86)(-0.9,7.34)(-0.55,6.95)(-0.2,6.68)(0.2,6.45)(0.62,6.24)};
\addplot[ci] coordinates {(-2.34,7.65)(-1.8,7.38)(-1.3,7.12)(-0.9,6.90)(-0.55,6.63)(-0.2,6.24)(0.2,5.71)(0.62,5.14)};
\addplot[fit] coordinates {(-2.34,8.47)(0.62,5.69)};
\stats{-0.2510}
\end{axis}
\end{tikzpicture}
\end{document}
